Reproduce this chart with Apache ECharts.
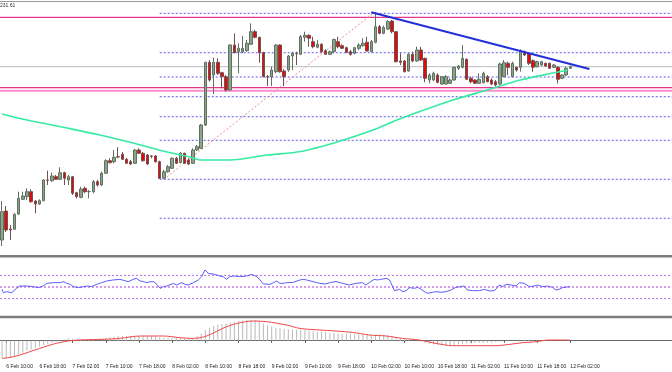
<!DOCTYPE html>
<html><head><meta charset="utf-8">
<script src="https://cdn.jsdelivr.net/npm/echarts@6/dist/echarts.min.js"></script>
<style>html,body{margin:0;padding:0;background:#fff}#c{width:672px;height:372px}</style>
</head><body><div id="c"></div>
<script>
// hourly slots starting 6 Feb 09:00 (chart shift leaves empty slots on the right)
const slotCount = 162;
const tickLabels = ['6 Feb 10:00','6 Feb 18:00','7 Feb 02:00','7 Feb 10:00','7 Feb 18:00','8 Feb 02:00','8 Feb 10:00','8 Feb 18:00','9 Feb 02:00','9 Feb 10:00','9 Feb 18:00','10 Feb 02:00','10 Feb 10:00','10 Feb 18:00','11 Feb 02:00','11 Feb 10:00','11 Feb 18:00','12 Feb 02:00'];
const infoText = '231.61';
// [open, close, low, high]
const ohlc = [
[60,88.3,54,99],[89,70,68,94],[71,70,60,75],[70.7,85.7,70,86.7],[86,101.7,85,108.3],
[100.7,104,100,108.3],[103.3,108.3,100,111.7],[108.3,98.3,97.3,110.7],[99,96,86.7,100],[96,99.3,95,100.7],
[99.3,120,98.7,120.7],[120,119.7,115,129.3],[119.3,124,118.3,127.3],[123.3,120.7,120,125],[120.7,127.3,120,132.7],
[127.3,121.7,115,128.3],[120,123.3,115,125],[123.3,106.7,105,124],[107.3,103.3,101.7,108.3],[102.7,111,101.7,113.3],
[111.7,108.3,106.7,113.3],[108.3,108.5,101.7,110],[108.3,118.3,106.7,120],[118.3,115,113.3,120],[115,126.7,114,128.3],
[126.7,139.3,126,140.7],[139.3,137.3,136.7,141.7],[138.3,142.7,136.7,150],[143.3,143,141.7,152.7],[145.7,140.7,140,148],
[140.7,136.7,136,142],[138.3,136,135,140],[136.7,150,136,151],[150,146.7,146,151.7],[146.7,139.3,138.3,148],
[145,136,135,146],[144,143.7,141.7,145],[144,138.3,137.3,145],[138.3,121.7,121.3,139.3],[121.7,128.3,121,130],
[128.3,133.3,127.3,135],[131.7,141.7,131,142.7],[141.7,136.7,136,143],[137.3,146.7,136.7,148],[146.7,136.7,136,147.3],
[140,136,135,141.7],[136.7,150,136,151.7],[150,153.3,149,155],[151.7,175,151,176],[175,237.7,174,238.3],
[237.7,220,218.3,240],[225,237.7,206,242.3],[237.7,226.7,225,241.7],[227.3,223.3,211.7,228.3],[223.3,210,208.3,225],
[210,255,209.3,255.7],[255,247.3,246.7,266.7],[248.3,251.7,226.7,256.7],[248.3,251.7,246.7,264],[249.3,256.7,248.3,260],
[255.7,268.3,255,276.7],[268.3,262.7,261.7,270],[262.7,247.3,237.3,263.3],[247.3,223.3,222.7,248.3],[223.3,223,214,225],
[223.3,230,214,233.3],[228.3,255,226.7,255.7],[255,228.3,227.3,255.7],[229,223.3,214,230.7],[230,244,228.3,245],
[244,246.7,230,248.3],[246.7,246.4,235,248.3],[245.7,263.3,245,265],[262.7,264.7,258.3,268.3],[264.7,261.7,253.3,265.7],
[258.3,253.3,251.7,263.3],[252.7,255.7,251.7,260],[255.7,248.3,247.3,256.7],[249.3,245.7,245,250.7],[245.7,248.3,245,249.3],
[248.5,260.5,246.7,261.3],[258.3,253.3,251.7,263.3],[254.3,251.7,251,255.7],[252.3,247.7,246.7,253.3],[248.3,245.7,244.3,250],
[246.7,252.3,245.7,253.3],[251.7,255,250,256.7],[254.3,256.7,253.3,261.7],[257.7,249,248.3,263.3],[248.3,258.3,247.7,260],
[257.7,273.3,256.7,288],[273.3,266.7,265.7,275],[266.7,272.3,265.7,274.3],[271,278.3,270,280],[279,268.3,266.7,280],
[268.3,238.3,237.7,269],[239,237.7,235,246.7],[239,228.3,227.7,240],[229,245.7,228.3,246.7],[245.7,239,237.7,248.3],
[239,250,238.3,253.3],[250,240,239,253.3],[241.7,221.7,217.7,242.3],[220,225,216.7,226.7],[220,226.7,219,228.3],
[225,217.7,216.7,226.7],[216,223.3,215,224],[216,223.3,215.3,225],[216.7,220,216,221.7],[220,232.7,219.3,233.3],
[231.7,234,230,235],[232.7,241.7,231.7,255],[240.7,220.7,220,241.7],[221.7,218.3,216.7,223.3],[220,216.7,216,220.7],
[216.7,220.7,216,226.7],[217.3,226.7,216.7,228.3],[223.3,218.3,217.7,225],[220,216,215,221.7],[218.3,215,213.3,220],
[216,236,215,237.3],[223.3,237.3,222.7,240],[236.7,232.7,225,238.3],[223.3,236.7,222.7,238.3],[232.7,230,228.3,233.3],
[232.7,249.3,228.3,250.7],[248.3,245,244,249.3],[246,236.7,235,247.3],[239.3,232.7,228.3,240.7],[233.3,238.3,232.7,239.3],
[235,238.3,234,239.3],[236.7,234,233,237.3],[236.7,231.7,231,237.3],[232.7,235,232,236],[232.7,220.7,216.7,234],
[221.7,225,221,226],[225,231.7,224,233.3],[231.7,233.3,231,234.5]
];
// moving average, read at selected slots: [slot, price]
const maPoints = [[0,186],[4.3,181.5],[15.6,172],[23.6,165],[31.6,157],[39.8,148],[45.3,143],[47.7,140],[55,140],[64,145],[72,148.5],[81.5,159],[89.4,170],[95.2,180],[101.7,190],[108.7,200],[116.9,210],[124.9,220],[132.8,227],[136.4,230]];
const fibLevels = [286.7, 247.3, 223, 203.3, 183.3, 159.7, 120.7, 81.7];
const fibStartSlot = 38;
const fibDiagonal = [[39,120.7],[89.5,287]];
const trendLine = [[89,287.7],[141.6,231]];
const pinkLevels = [282.7, 212.3];
const pinkWideLevel = 209.3;
const bidPrice = 233.3;
// oscillator panel
const rsiPoints = [[0,46],[0.3,40.2],[1.1,42],[2.3,40.2],[3.5,47.7],[4.3,51.7],[5.9,51.7],[7.5,50.6],[8.7,48.9],[9.9,51.7],
[10.8,56.3],[12.4,57.5],[14,57.5],[14.8,59.2],[15.6,56.3],[16.4,54.6],[17.2,50.6],[18.4,48.9],[19.6,50.6],[20.4,51.7],
[21.6,50.6],[22.8,54.6],[24,57.5],[25.2,60.3],[26.8,62.1],[28.4,63.2],[29.6,60.9],[30.4,59.2],[31.6,63.2],[32.4,64.9],
[33.3,60.3],[34.1,59.2],[34.9,57.5],[35.7,59.2],[36.5,59.2],[37.3,54.6],[38.1,47.7],[38.9,50.6],[39.7,51.7],[41.3,56.3],
[42.1,53.4],[43.3,57.5],[44.1,54.6],[44.9,53.4],[46.1,57.5],[47.3,62.1],[48.1,67.8],[48.9,79.3],[49.7,73.6],[50.9,72.4],
[52.5,69],[53.3,67.8],[54.1,63.2],[54.9,67.8],[55.8,69],[57.4,67.8],[59,69],[60.2,71.8],[61.4,67.8],[62.2,62.1],
[63,55.2],[64.6,54.6],[65.4,57.5],[66.2,60.3],[67,56.3],[67.8,56.3],[68.6,57.5],[70.2,58],[71.8,62.1],[72.6,63.2],
[73.4,62.1],[75,59.2],[76.6,56.3],[77.9,55.2],[79.1,57.5],[80.5,59.5],[82.1,56.3],[83.7,53.4],[85.3,56.3],[86.9,57.5],
[87.7,53.4],[88.5,57.5],[89.7,63.2],[90.5,62.1],[91.3,63.2],[92.6,64.9],[93.4,62.1],[94.6,43.7],[95.8,46],[96.6,42],
[97.4,43.7],[98.2,48.9],[99.4,47.7],[100.2,49.4],[101,46],[101.8,42],[102.6,39.1],[103.8,40.8],[104.6,42],[105.8,40.8],
[107,42],[108.2,44.8],[109.4,49.4],[110.6,50.6],[111.4,51.7],[112.2,44.8],[113.4,43.7],[115.1,43.7],[116.3,46],[117.5,43.1],
[118.7,43.7],[119.9,53.4],[120.7,50.6],[121.5,54.6],[122.7,53.4],[123.9,51.7],[124.7,57.5],[125.9,56.3],[127.1,50.6],[128.3,51.7],
[129.1,53.4],[130.3,50.6],[131.5,51.7],[132.7,49.4],[133.5,44.8],[134.3,46],[135.1,48.9],[136.8,50.6]];
const rsiLevels = [70, 50, 30];
// MACD histogram per candle, signal line at selected slots
const macdHist = [-1.77,-1.77,-1.67,-1.53,-1.37,-1.2,-1.0,-0.87,-0.73,-0.6,
-0.43,-0.3,-0.2,-0.1,0.05,0.13,0.23,0.2,0.13,0.07,
0.07,0.1,0.13,0.13,0.2,0.27,0.33,0.4,0.47,0.47,
0.47,0.47,0.5,0.5,0.5,0.47,0.47,0.43,0.33,0.3,
0.3,0.3,0.3,0.3,0.27,0.23,0.3,0.47,0.73,1.07,
1.3,1.47,1.6,1.67,1.73,1.8,1.9,1.97,2.03,2.07,
2.1,2.07,1.97,1.73,1.53,1.4,1.33,1.27,1.2,1.17,
1.13,1.1,1.1,1.07,1.03,0.97,0.93,0.9,0.87,0.8,
0.77,0.73,0.7,0.7,0.67,0.67,0.63,0.6,0.6,0.6,
0.6,0.6,0.6,0.57,0.5,0.33,0.23,0.13,0.07,0,
-0.07,-0.13,-0.2,-0.3,-0.37,-0.4,-0.43,-0.47,-0.5,-0.43,
-0.37,-0.3,-0.27,-0.27,-0.23,-0.23,-0.2,-0.2,-0.17,-0.13,
-0.1,-0.07,-0.03,-0.03,0.02,0.03,0.07,0.07,0.07,0.07,
0.03,0.03,0.03,0.03,0.02,0.02,0.02,0.02];
const macdSignal = [[0,-1.77],[1.9,-1.67],[4.3,-1.43],[6.7,-1.1],[9.1,-0.77],[11.6,-0.43],[14,-0.17],[16.4,0],[18.8,0.07],[21.2,0.1],
[23.6,0.13],[26,0.17],[28.4,0.23],[33.3,0.47],[38.9,0.47],[42.9,0.3],[46.1,0.23],[49.3,0.47],[54.1,1.4],[57.4,1.8],
[60.6,1.97],[63.8,1.9],[68.6,1.57],[71.8,1.23],[76.6,1.07],[80.5,0.97],[84.5,0.83],[88.5,0.57],[92.6,0.47],[96.6,0.23],
[100.6,0.07],[104.6,-0.27],[108.6,-0.5],[112.6,-0.5],[116.7,-0.5],[119.1,-0.5],[122.3,-0.37],[125.5,-0.2],[128.7,-0.1],[131.9,0.07],[136.8,0.07]];

const slots = Array.from({length: slotCount}, (_, i) => i);
const xMin = -0.5, xMax = slotCount - 0.5;
const showTick = i => i >= 1 && i <= 137 && (i - 1) % 8 === 0;

function hline(xi, yi, x0, v, color, width, type, z) {
  return {type:'line', xAxisIndex:xi, yAxisIndex:yi, data:[[x0, v],[xMax, v]], symbol:'none', silent:true,
    lineStyle:{color, width, type}, z: z||1, animation:false};
}

const series = [];
pinkLevels.forEach(v => series.push(hline(1,0,xMin,v,'#e2368c',1.3,'solid',1)));
series.push(hline(1,0,xMin,pinkWideLevel,'#ff8ccc',2,'solid',1));
series.push(hline(1,0,xMin,bidPrice,'#b6bec6',1,'solid',1));
fibLevels.forEach(v => series.push(hline(1,0,fibStartSlot,v,'#5a5aee',1,[2,2],1)));
series.push({type:'line', xAxisIndex:1, yAxisIndex:0, data:fibDiagonal, symbol:'none', silent:true,
  lineStyle:{color:'#f08a8a', width:1, type:[2,2]}, z:1, animation:false});
series.push({type:'candlestick', xAxisIndex:0, yAxisIndex:0, data:ohlc, barWidth:3, z:3, animation:false,
  itemStyle:{color:'#8aa58a', color0:'#e00a0a', borderColor:'#627062', borderColor0:'#745050', borderWidth:1}});
series.push({type:'line', xAxisIndex:1, yAxisIndex:0, data:maPoints, symbol:'none', smooth:0.3, silent:true,
  lineStyle:{color:'#36eca2', width:1.6}, z:4, animation:false});
series.push({type:'line', xAxisIndex:1, yAxisIndex:0, data:trendLine, symbol:'none', silent:true,
  lineStyle:{color:'#2230d8', width:2}, z:5, animation:false});
// RSI panel
rsiLevels.forEach((v,k) => series.push(hline(2,1,xMin,v, k===1?'#d79af0':'#b56ee6', k===1?2:1, [2,2], 1)));
series.push({type:'line', xAxisIndex:2, yAxisIndex:1, data:rsiPoints, symbol:'none', silent:true,
  lineStyle:{color:'#5c5cff', width:1}, z:3, animation:false});
// MACD panel
series.push({type:'bar', xAxisIndex:3, yAxisIndex:2, data:macdHist, barWidth:1, silent:true,
  itemStyle:{color:'#b9b9b9'}, z:2, animation:false});
series.push({type:'line', xAxisIndex:4, yAxisIndex:2, data:macdSignal, symbol:'none', smooth:0.3, silent:true,
  lineStyle:{color:'#f04848', width:1}, z:3, animation:false});

const hiddenValX = g => ({type:'value', gridIndex:g, min:xMin, max:xMax, show:false});
const option = {
  backgroundColor:'#ffffff',
  animation:false,
  grid:[
    {left:0, right:0, top:2, height:253},
    {left:0, right:0, top:258, height:58},
    {left:0, right:0, top:318, height:43}
  ],
  xAxis:[
    {type:'category', gridIndex:0, data:slots, show:false, boundaryGap:true},
    hiddenValX(0),
    hiddenValX(1),
    {type:'category', gridIndex:2, data:slots, boundaryGap:true,
      axisLine:{show:true, lineStyle:{color:'#6a6a6a', width:1}},
      axisTick:{show:true, alignWithLabel:true, interval:(i)=>showTick(i), length:2, lineStyle:{color:'#444'}},
      axisLabel:{show:true, interval:(i)=>showTick(i), formatter:(v,i)=>tickLabels[(i-1)/8]||'',
        align:'left', fontSize:5, color:'#222', margin:3, fontFamily:'Liberation Sans'},
      splitLine:{show:false}},
    hiddenValX(2)
  ],
  yAxis:[
    {type:'value', gridIndex:0, min:45, max:298, show:false, splitLine:{show:false}},
    {type:'value', gridIndex:1, min:0, max:100, show:false, splitLine:{show:false}},
    {type:'value', gridIndex:2, min:-2.03, max:2.27, show:false, splitLine:{show:false}}
  ],
  graphic:[
    {type:'rect', shape:{x:0, y:1, width:672, height:1}, style:{fill:'#9a9a9a'}, silent:true},
    {type:'rect', shape:{x:0, y:255, width:672, height:2.4}, style:{fill:'#7c7c7c'}, silent:true},
    {type:'rect', shape:{x:0, y:315.8, width:672, height:2.4}, style:{fill:'#7c7c7c'}, silent:true},
    {type:'text', left:0, top:3, style:{text:infoText, fontSize:5, fill:'#333', fontFamily:'Liberation Sans'}, silent:true}
  ],
  series
};
const chart = echarts.init(document.getElementById('c'), null, {renderer:'canvas'});
chart.setOption(option);
</script>
</body></html>
